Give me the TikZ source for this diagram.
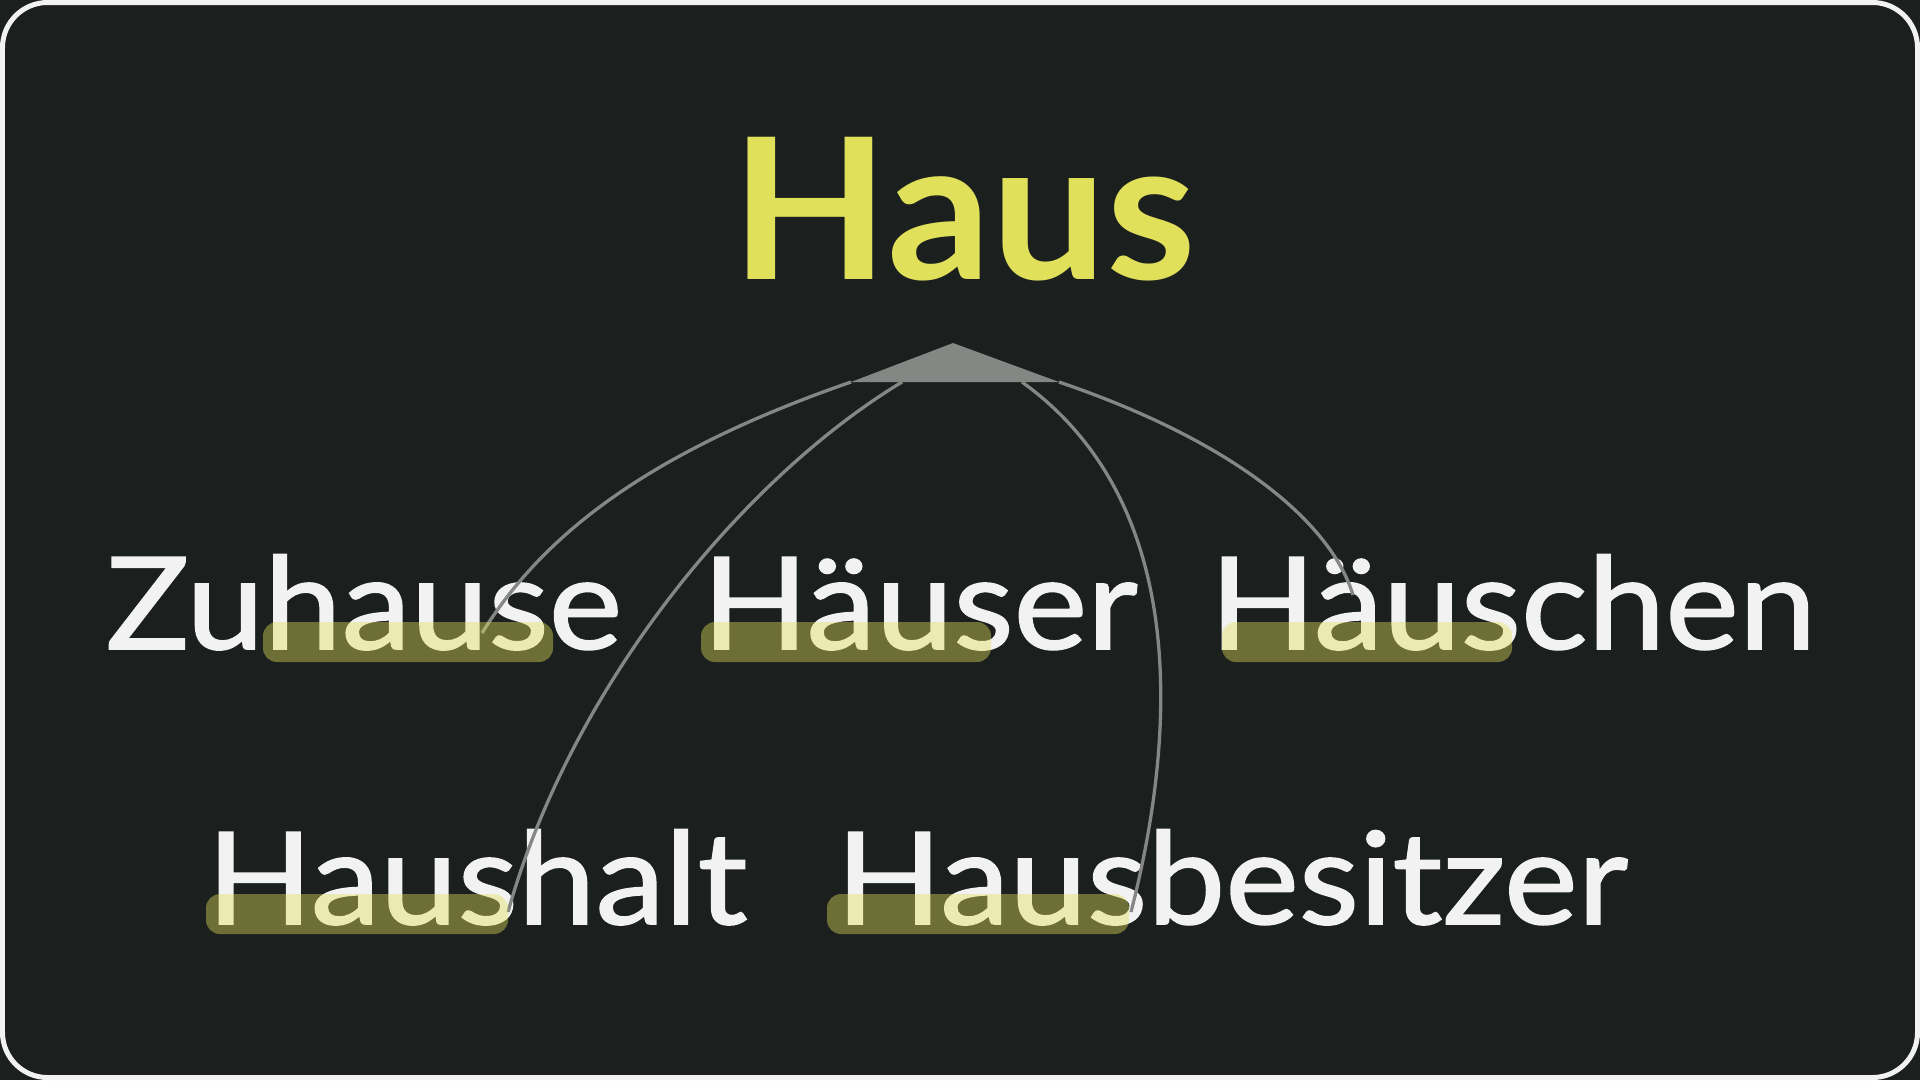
\documentclass[tikz,border=0pt]{standalone}
\usepackage{fontspec}
\setmainfont{Lato}
\newfontfamily\rootfont{Lato}[FakeStretch=1.04]
\newfontfamily\wordfont{Lato}[FakeStretch=1.085, FakeBold=1.3]
\definecolor{slate}{HTML}{1B1F1E}
\definecolor{chalk}{HTML}{F2F2F2}
\definecolor{lemon}{HTML}{E0E05A}
\definecolor{stone}{HTML}{858784}
\tikzset{
  root/.style={anchor=base, inner sep=0pt, text=lemon, font=\rootfont\bfseries\fontsize{56}{60}\selectfont},
  word/.style={anchor=base, inner sep=0pt, text=chalk, font=\wordfont\fontsize{36.5}{40}\selectfont},
  hl/.style={fill=lemon, fill opacity=0.42, rounded corners=1.4mm, inner sep=0pt,
    minimum width=29mm, minimum height=4mm},
  link/.style={draw=stone, line width=0.33mm},
}
\begin{document}
\begin{tikzpicture}[x=0.1mm, y=-0.1mm]
    \useasboundingbox (0, 0) rectangle (1920, 1080);
    \fill [slate] (0, 0) rectangle (1920, 1080);
    \draw [chalk, line width=0.5mm, rounded corners=4.5mm] (2.5, 2.5) rectangle (1917.5, 1077.5);

    \node [root] (haus) at (964, 279) {Haus};

    \node [word] (zuhause) at (364, 649) {Zuhause};
    \node [word] (haeuser) at (920, 649) {Häuser};
    \node [word] (haeuschen) at (1513, 649) {Häuschen};
    \node [word] (haushalt) at (477, 924) {Haushalt};
    \node [word] (hausbesitzer) at (1232, 924) {Hausbesitzer};

    \coordinate (top) at (953, 343);
    \coordinate (fanL) at (851, 382);
    \coordinate (fanA) at (902, 382);
    \coordinate (fanB) at (1022, 382);
    \coordinate (fanR) at (1059, 382);

    \coordinate (eZ) at (482, 633);
    \coordinate (eHh) at (508, 912);
    \coordinate (eHb) at (1131, 912);
    \coordinate (eHc) at (1353, 595);

    \draw [link] (fanL) .. controls (640, 455) and (540, 540) .. (eZ);
    \draw [link] (fanA) .. controls (740, 480) and (570, 690) .. (eHh);
    \draw [link] (fanB) .. controls (1200, 510) and (1170, 760) .. (eHb);
    \draw [link] (fanR) .. controls (1230, 440) and (1330, 520) .. (eHc);

    \fill [stone] (top) -- (fanR) -- (fanL) -- cycle;

    \node [hl] (hlZ) at (408, 642) {};
    \node [hl] (hlHr) at (846, 642) {};
    \node [hl] (hlHc) at (1367, 642) {};
    \node [hl, minimum width=30.2mm] (hlHh) at (357, 914) {};
    \node [hl, minimum width=30.2mm] (hlHb) at (978, 914) {};
\end{tikzpicture}
\end{document}
